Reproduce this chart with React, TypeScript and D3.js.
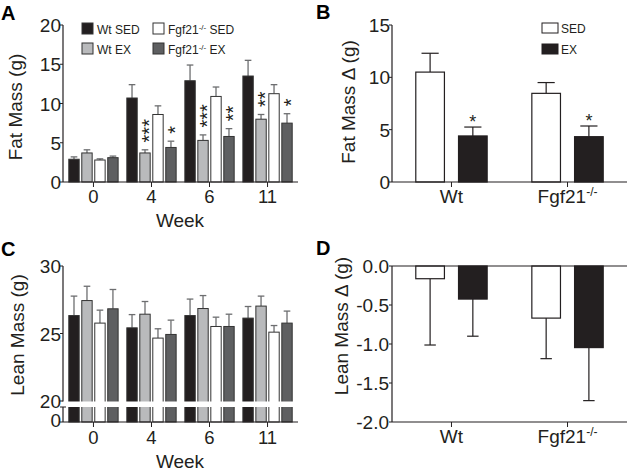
import * as d3 from "d3";

const FONT = "'Liberation Sans', Arial, Helvetica, sans-serif";
const INK = "#231f20";

// panel A / C categories
const weeks = ["0", "4", "6", "11"];
const groups = ["Wt SED", "Wt EX", "Fgf21 SED", "Fgf21 EX"];
const groupColors = ["#231f20", "#b9babc", "#ffffff", "#5e5f61"];

// fat mass (g)
const fatWtSed = [2.9, 10.7, 12.9, 13.5];
const fatWtSedErr = [0.3, 1.7, 2.0, 2.0];
const fatWtEx = [3.7, 3.7, 5.3, 8.0];
const fatWtExErr = [0.4, 0.4, 0.7, 0.6];
const fatKoSed = [2.8, 8.6, 10.9, 11.25];
const fatKoSedErr = [0.15, 1.1, 1.2, 1.15];
const fatKoEx = [3.1, 4.4, 5.8, 7.5];
const fatKoExErr = [0.2, 0.8, 1.0, 1.2];
const fatStars = [
  ["", "", "", ""],
  ["", "***", "***", "**"],
  ["", "", "", ""],
  ["", "*", "**", "*"],
];

// lean mass (g)
const leanWtSed = [26.33, 25.42, 26.33, 26.14];
const leanWtSedErr = [1.44, 0.98, 1.22, 0.86];
const leanWtEx = [27.44, 26.43, 26.85, 27.03];
const leanWtExErr = [1.06, 0.94, 0.96, 0.74];
const leanKoSed = [25.77, 24.66, 25.52, 25.1];
const leanKoSedErr = [0.96, 0.69, 0.69, 0.49];
const leanKoEx = [26.83, 24.93, 25.52, 25.77];
const leanKoExErr = [1.43, 1.06, 0.91, 0.89];

// panel B / D categories
const genotypes = ["Wt", "Fgf21"];
const treatments = ["SED", "EX"];
const treatColors = ["#ffffff", "#231f20"];

const fatDeltaSed = [10.5, 8.47];
const fatDeltaSedErr = [1.8, 1.03];
const fatDeltaEx = [4.4, 4.33];
const fatDeltaExErr = [0.85, 1.02];
const fatDeltaStars = ["*", "*"];

const leanDeltaSed = [-0.163, -0.668];
const leanDeltaSedErr = [0.85, 0.52];
const leanDeltaEx = [-0.424, -1.046];
const leanDeltaExErr = [0.476, 0.68];

const fatTicks = [0, 5, 10, 15, 20];
const fatDeltaTicks = [0, 5, 10, 15];
const leanTicks = [20, 25, 30];
const leanDeltaTicks = [0, -0.5, -1, -1.5, -2];

const fatSeries = [fatWtSed, fatWtEx, fatKoSed, fatKoEx];
const fatErrs = [fatWtSedErr, fatWtExErr, fatKoSedErr, fatKoExErr];
const leanSeries = [leanWtSed, leanWtEx, leanKoSed, leanKoEx];
const leanErrs = [leanWtSedErr, leanWtExErr, leanKoSedErr, leanKoExErr];

const label = (name: string, size: number, sup: number, dy: number) => {
  if (!name.startsWith("Fgf21")) return name;
  const rest = name.slice(5);
  return (
    <>
      <tspan>Fgf21</tspan>
      <tspan fontSize={sup} dy={-dy}>-/-</tspan>
      {rest && <tspan fontSize={size} dy={dy}>{rest}</tspan>}
    </>
  );
};

const YLabel = ({ x, y, text }: { x: number; y: number; text: string }) => (
  <text transform={`translate(${x},${y}) rotate(-90)`} textAnchor="middle" fontSize={19} fill={INK}>
    {text}
  </text>
);

const App = () => {
  // ---------- panel A ----------
  const xA = d3.scaleBand().domain(weeks).range([63, 298]).paddingInner(0.15).paddingOuter(0.1);
  const xAin = d3.scaleBand().domain(groups).range([0, xA.bandwidth()]).paddingInner(0.2);
  const yA = d3.scaleLinear().domain([0, 20]).range([182, 25]);

  // ---------- panel C ----------
  const yC = d3.scaleLinear().domain([20, 30]).range([401, 266]);
  const baseC = 422;
  const breakTop = yC(20) + 0.5;
  const breakBottom = yC(20) + 6;

  // ---------- panel B / D ----------
  const xB = d3.scaleBand().domain(genotypes).range([392, 627]).paddingInner(0.385).paddingOuter(0.205);
  const xBin = d3.scaleBand().domain(treatments).range([0, xB.bandwidth()]).paddingInner(0.33);
  const yB = d3.scaleLinear().domain([0, 15]).range([182, 25]);
  const yD = d3.scaleLinear().domain([-2, 0]).range([422, 266]);

  const fatDelta = [fatDeltaSed, fatDeltaEx];
  const fatDeltaErr = [fatDeltaSedErr, fatDeltaExErr];
  const leanDelta = [leanDeltaSed, leanDeltaEx];
  const leanDeltaErr = [leanDeltaSedErr, leanDeltaExErr];

  const bwA = xAin.bandwidth();
  const bwB = xBin.bandwidth();

  return (
    <svg width={628} height={476} style={{ position: "absolute", left: 0, top: 0 }} fontFamily={FONT}>
      <rect width={628} height={476} fill="#fff" />

      {/* panel letters */}
      <g fontWeight="bold" fontSize={20} fill="#000">
        <text x={1} y={20}>A</text>
        <text x={316} y={19}>B</text>
        <text x={1} y={256}>C</text>
        <text x={316} y={255}>D</text>
      </g>

      {/* ===== A ===== */}
      <g>
        {weeks.map((w, wi) =>
          groups.map((g, gi) => {
            const v = fatSeries[gi][wi];
            const e = fatErrs[gi][wi];
            const x = (xA(w) ?? 0) + (xAin(g) ?? 0);
            const cx = x + bwA / 2;
            const stars = fatStars[gi][wi];
            return (
              <g key={`a-${w}-${g}`}>
                <line x1={cx} x2={cx} y1={yA(v)} y2={yA(v + e)} stroke="#6d6e70" strokeWidth={1.3} />
                <line x1={cx - bwA * 0.32} x2={cx + bwA * 0.32} y1={yA(v + e)} y2={yA(v + e)} stroke="#6d6e70" strokeWidth={1.3} />
                <rect x={x} y={yA(v)} width={bwA} height={yA(0) - yA(v)} fill={groupColors[gi]} stroke="#333" strokeWidth={1} />
                {stars && (
                  // stacked significance stars, written bottom-to-top
                  <text
                    transform={`translate(${cx + 11.4},${yA(v + e) - 7.4}) rotate(-90)`}
                    fontSize={20}
                    fill={INK}
                  >
                    {stars}
                  </text>
                )}
              </g>
            );
          })
        )}
        <line x1={63} x2={63} y1={yA(20)} y2={yA(0)} stroke={INK} strokeWidth={1.2} />
        <line x1={63} x2={298} y1={yA(0)} y2={yA(0)} stroke={INK} strokeWidth={1.2} />
        {fatTicks.map((t) => (
          <g key={`ta-${t}`}>
            <line x1={60} x2={63} y1={yA(t)} y2={yA(t)} stroke={INK} />
            <text x={61} y={yA(t) + 7} textAnchor="end" fontSize={19} fill={INK}>{t}</text>
          </g>
        ))}
        {weeks.map((w) => (
          <g key={`xa-${w}`}>
            <line x1={(xA(w) ?? 0) + xA.bandwidth() / 2} x2={(xA(w) ?? 0) + xA.bandwidth() / 2} y1={yA(0)} y2={yA(0) + 5} stroke={INK} />
            <text x={(xA(w) ?? 0) + xA.bandwidth() / 2} y={203} textAnchor="middle" fontSize={18.5} fill={INK}>{w}</text>
          </g>
        ))}
        <text x={180} y={227} textAnchor="middle" fontSize={19} fill={INK}>Week</text>
        <YLabel x={22} y={107} text="Fat Mass (g)" />
        {/* legend: column = genotype, row = treatment */}
        {groups.map((g, gi) => {
          const lx = gi < 2 ? 82 : 153;
          const ly = (gi % 2) * 20 + 23;
          return (
            <g key={`la-${g}`}>
              <rect x={lx} y={ly} width={11} height={11} fill={groupColors[gi]} stroke="#333" strokeWidth={1} />
              <text x={lx + 15} y={ly + 10.5} fontSize={12} fill={INK}>
                {label(g, 12, 8, 4)}
              </text>
            </g>
          );
        })}
      </g>

      {/* ===== B ===== */}
      <g>
        {genotypes.map((gn, gi) =>
          treatments.map((t, ti) => {
            const v = fatDelta[ti][gi];
            const e = fatDeltaErr[ti][gi];
            const x = (xB(gn) ?? 0) + (xBin(t) ?? 0);
            const cx = x + bwB / 2;
            return (
              <g key={`b-${gn}-${t}`}>
                <line x1={cx} x2={cx} y1={yB(v)} y2={yB(v + e)} stroke={INK} strokeWidth={1.2} />
                <line x1={cx - bwB * 0.3} x2={cx + bwB * 0.3} y1={yB(v + e)} y2={yB(v + e)} stroke={INK} strokeWidth={1.2} />
                <rect x={x} y={yB(v)} width={bwB} height={yB(0) - yB(v)} fill={treatColors[ti]} stroke={INK} strokeWidth={1.2} />
                {ti === 1 && (
                  <text x={cx} y={yB(v + e) - 9 + 10} textAnchor="middle" fontSize={18} fill={INK}>
                    {fatDeltaStars[gi]}
                  </text>
                )}
              </g>
            );
          })
        )}
        <line x1={392} x2={392} y1={yB(15)} y2={yB(0)} stroke={INK} strokeWidth={1.2} />
        <line x1={392} x2={627} y1={yB(0)} y2={yB(0)} stroke={INK} strokeWidth={1.2} />
        {fatDeltaTicks.map((t) => (
          <g key={`tb-${t}`}>
            <line x1={389} x2={392} y1={yB(t)} y2={yB(t)} stroke={INK} />
            <text x={390} y={yB(t) + 7} textAnchor="end" fontSize={19} fill={INK}>{t}</text>
          </g>
        ))}
        {genotypes.map((gn) => {
          const cx = (xB(gn) ?? 0) + xB.bandwidth() / 2;
          return (
            <g key={`xb-${gn}`}>
              <line x1={cx} x2={cx} y1={yB(0)} y2={yB(0) + 5} stroke={INK} />
              <text x={cx} y={203} textAnchor="middle" fontSize={19} fill={INK}>
                {label(gn, 19, 12, 7)}
              </text>
            </g>
          );
        })}
        <YLabel x={355} y={102} text="Fat Mass Δ (g)" />
        {treatments.map((t, ti) => (
          <g key={`lb-${t}`}>
            <rect x={542} y={23 + ti * 21} width={16} height={10} fill={treatColors[ti]} stroke={INK} strokeWidth={1} />
            <text x={561} y={32.5 + ti * 21} fontSize={12} fill={INK}>{t}</text>
          </g>
        ))}
      </g>

      {/* ===== C ===== */}
      <g>
        {weeks.map((w, wi) =>
          groups.map((g, gi) => {
            const v = leanSeries[gi][wi];
            const e = leanErrs[gi][wi];
            const x = (xA(w) ?? 0) + (xAin(g) ?? 0);
            const cx = x + bwA / 2;
            return (
              <g key={`c-${w}-${g}`}>
                <line x1={cx} x2={cx} y1={yC(v)} y2={yC(v + e)} stroke="#6d6e70" strokeWidth={1.3} />
                <line x1={cx - bwA * 0.32} x2={cx + bwA * 0.32} y1={yC(v + e)} y2={yC(v + e)} stroke="#6d6e70" strokeWidth={1.3} />
                <rect x={x} y={yC(v)} width={bwA} height={baseC - yC(v)} fill={groupColors[gi]} stroke="#333" strokeWidth={1} />
              </g>
            );
          })
        )}
        {/* axis break */}
        <rect x={64} y={breakTop} width={234} height={breakBottom - breakTop} fill="#fff" />
        <line x1={63} x2={63} y1={yC(30)} y2={breakTop} stroke={INK} strokeWidth={1.2} />
        <line x1={63} x2={63} y1={breakBottom} y2={baseC} stroke={INK} strokeWidth={1.2} />
        <line x1={60} x2={66} y1={breakBottom} y2={breakBottom} stroke={INK} strokeWidth={1} />
        <line x1={63} x2={298} y1={baseC} y2={baseC} stroke={INK} strokeWidth={1.2} />
        {leanTicks.map((t) => (
          <g key={`tc-${t}`}>
            <line x1={60} x2={63} y1={yC(t)} y2={yC(t)} stroke={INK} />
            <text x={61} y={yC(t) + 7} textAnchor="end" fontSize={19} fill={INK}>{t}</text>
          </g>
        ))}
        <line x1={60} x2={63} y1={baseC} y2={baseC} stroke={INK} />
        <text x={61} y={baseC + 5} textAnchor="end" fontSize={19} fill={INK}>0</text>
        {weeks.map((w) => (
          <g key={`xc-${w}`}>
            <line x1={(xA(w) ?? 0) + xA.bandwidth() / 2} x2={(xA(w) ?? 0) + xA.bandwidth() / 2} y1={baseC} y2={baseC + 5} stroke={INK} />
            <text x={(xA(w) ?? 0) + xA.bandwidth() / 2} y={444} textAnchor="middle" fontSize={18.5} fill={INK}>{w}</text>
          </g>
        ))}
        <text x={180} y={468} textAnchor="middle" fontSize={19} fill={INK}>Week</text>
        <YLabel x={24} y={335} text="Lean Mass (g)" />
      </g>

      {/* ===== D ===== */}
      <g>
        {genotypes.map((gn, gi) =>
          treatments.map((t, ti) => {
            const v = leanDelta[ti][gi];
            const e = leanDeltaErr[ti][gi];
            const x = (xB(gn) ?? 0) + (xBin(t) ?? 0);
            const cx = x + bwB / 2;
            return (
              <g key={`d-${gn}-${t}`}>
                <line x1={cx} x2={cx} y1={yD(v)} y2={yD(v - e)} stroke={INK} strokeWidth={1.2} />
                <line x1={cx - bwB * 0.2} x2={cx + bwB * 0.2} y1={yD(v - e)} y2={yD(v - e)} stroke={INK} strokeWidth={1.2} />
                <rect x={x} y={yD(0)} width={bwB} height={yD(v) - yD(0)} fill={treatColors[ti]} stroke={INK} strokeWidth={1.2} />
              </g>
            );
          })
        )}
        <line x1={392} x2={392} y1={yD(0)} y2={yD(-2)} stroke={INK} strokeWidth={1.2} />
        <line x1={392} x2={627} y1={yD(0)} y2={yD(0)} stroke={INK} strokeWidth={1.2} />
        <line x1={392} x2={627} y1={yD(-2)} y2={yD(-2)} stroke={INK} strokeWidth={1.2} />
        {leanDeltaTicks.map((t) => (
          <g key={`td-${t}`}>
            <line x1={389} x2={392} y1={yD(t)} y2={yD(t)} stroke={INK} />
            <text x={389} y={yD(t) + 7} textAnchor="end" fontSize={19} fill={INK}>{t.toFixed(1)}</text>
          </g>
        ))}
        {genotypes.map((gn) => {
          const cx = (xB(gn) ?? 0) + xB.bandwidth() / 2;
          return (
            <g key={`xd-${gn}`}>
              <line x1={cx} x2={cx} y1={yD(-2)} y2={yD(-2) + 5} stroke={INK} />
              <text x={cx} y={443} textAnchor="middle" fontSize={19} fill={INK}>
                {label(gn, 19, 12, 7)}
              </text>
            </g>
          );
        })}
        <YLabel x={348} y={326} text="Lean Mass Δ (g)" />
      </g>
    </svg>
  );
};

export default App;
